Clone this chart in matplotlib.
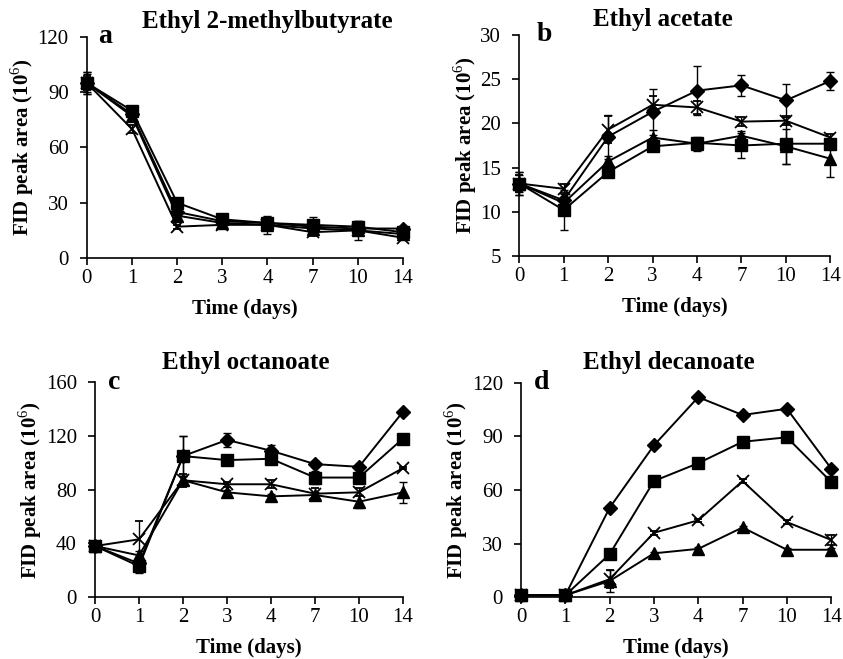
import numpy as np
import matplotlib
matplotlib.use('Agg')
import matplotlib.pyplot as plt

plt.rcParams['font.family'] = ['Liberation Serif', 'DejaVu Serif']
plt.rcParams['mathtext.fontset'] = 'custom'
plt.rcParams['mathtext.rm'] = 'Liberation Serif'
plt.rcParams['mathtext.bf'] = 'Liberation Serif:bold'

days = ['0', '1', '2', '3', '4', '7', '10', '14']

# panel a - Ethyl 2-methylbutyrate
a_diamond = [95, 78, 25, 20, 19, 17, 16, 16]
a_square = [95, 80, 30, 21, 19, 18, 17, 14]
a_triangle = [95, 77, 23, 19, 18, 16, 15, 13]
a_cross = [95, 70, 17, 18, 18, 14, 15, 11]
a_diamond_err = [6, 2, 2, 1, 2, 2, 2, 1]
a_square_err = [6, 2, 2, 2, 3, 4, 3, 2]
a_triangle_err = [5, 2, 2, 1, 5, 2, 5, 2]
a_cross_err = [4, 2, 1, 1, 1, 2, 1, 1]

# panel b - Ethyl acetate
b_diamond = [13.2, 11.3, 18.5, 21.3, 23.7, 24.3, 22.6, 24.8]
b_square = [13.2, 10.2, 14.5, 17.4, 17.8, 17.5, 17.7, 17.7]
b_triangle = [13.2, 11.0, 15.7, 18.4, 17.7, 18.6, 17.4, 16.0]
b_cross = [13.2, 12.6, 19.3, 22.1, 21.8, 20.2, 20.3, 18.4]
b_diamond_err = [1.3, 0.7, 2.5, 2.6, 2.8, 1.2, 1.9, 1.0]
b_square_err = [1.3, 2.3, 0.6, 0.5, 0.5, 1.4, 2.3, 0.5]
b_triangle_err = [1.0, 0.6, 0.6, 0.8, 0.8, 0.5, 2.0, 2.1]
b_cross_err = [1.0, 0.5, 1.5, 1.0, 0.7, 0.5, 0.5, 0.4]

# panel c - Ethyl octanoate
c_diamond = [38, 25, 105, 117, 109, 99, 97, 138]
c_square = [38, 23, 105, 102, 103, 89, 89, 118]
c_triangle = [38, 31, 87, 78, 75, 76, 71, 78]
c_cross = [38, 43, 87, 84, 84, 77, 78, 96]
c_diamond_err = [2, 3, 15, 5, 4, 2, 2, 1]
c_square_err = [2, 5, 15, 2, 3, 5, 3, 1]
c_triangle_err = [2, 3, 3, 2, 2, 2, 5, 8]
c_cross_err = [2, 14, 5, 2, 3, 4, 3, 1]

# panel d - Ethyl decanoate
d_diamond = [1, 1, 50, 85, 112, 102, 105.5, 72]
d_square = [1, 1, 24, 65, 75, 87, 89.5, 64.5]
d_triangle = [1, 1, 9, 24.5, 27, 39, 26.5, 26.5]
d_cross = [1, 1, 10, 36, 43, 65, 42, 32]
d_diamond_err = [0.5, 0.5, 1, 1, 1, 1, 1, 1]
d_square_err = [0.5, 0.5, 1, 1, 1, 1, 1, 1]
d_triangle_err = [0.5, 0.5, 6, 1, 1, 1, 1, 1]
d_cross_err = [0.5, 0.5, 5, 1, 1, 1, 1, 3]

# letter, title, axes rect, ylim, yticks, title x, title offset (px), letter x, series
panels = [
    ('a', 'Ethyl 2-methylbutyrate', [0.103, 0.6085, 0.375, 0.3355], (0, 120), [0, 30, 60, 90, 120], 0.57, 15, 0.035,
     [(a_diamond, a_diamond_err), (a_square, a_square_err), (a_triangle, a_triangle_err), (a_cross, a_cross_err)]),
    ('b', 'Ethyl acetate', [0.616, 0.6115, 0.369, 0.3355], (5, 30), [5, 10, 15, 20, 25, 30], 0.463, 15, 0.055,
     [(b_diamond, b_diamond_err), (b_square, b_square_err), (b_triangle, b_triangle_err), (b_cross, b_cross_err)]),
    ('c', 'Ethyl octanoate', [0.1127, 0.094, 0.3653, 0.326], (0, 160), [0, 40, 80, 120, 160], 0.49, 20, 0.042,
     [(c_diamond, c_diamond_err), (c_square, c_square_err), (c_triangle, c_triangle_err), (c_cross, c_cross_err)]),
    ('d', 'Ethyl decanoate', [0.618, 0.094, 0.368, 0.325], (0, 120), [0, 30, 60, 90, 120], 0.477, 20, 0.042,
     [(d_diamond, d_diamond_err), (d_square, d_square_err), (d_triangle, d_triangle_err), (d_cross, d_cross_err)]),
]

markers = [('D', 7, 1), ('s', 8.5, 1), ('^', 8.5, 1), ('x', 8, 1.3)]

fig = plt.figure(figsize=(8.43, 6.59), dpi=100)
x = np.arange(len(days))

for letter, title, rect, ylim, yticks, tx, toff, lx, series in panels:
    ax = fig.add_axes(rect)
    for (vals, err), (m, ms, mew) in zip(series, markers):
        ax.errorbar(x, vals, yerr=err, color='black', ecolor='black', elinewidth=1,
                    capsize=3, capthick=1, lw=1.4, marker=m, markersize=ms,
                    markeredgewidth=mew, markerfacecolor='black', markeredgecolor='black',
                    clip_on=False, zorder=3)
    ax.set_xlim(0, len(days) - 1)
    ax.set_ylim(*ylim)
    ax.set_xticks(x)
    ax.set_xticklabels(days)
    ax.set_yticks(yticks)
    ax.spines['top'].set_visible(False)
    ax.spines['right'].set_visible(False)
    ax.spines['left'].set_linewidth(1.2)
    ax.spines['bottom'].set_linewidth(1.2)
    ax.tick_params(direction='out', length=5, width=1.2, labelsize=15)
    ax.tick_params(axis='x', pad=3)
    ax.tick_params(axis='y', pad=8)
    ax.set_xlabel('Time (days)', fontsize=15, fontweight='bold', labelpad=8)
    ax.set_ylabel(r'FID peak area (10$^{6}$)', fontsize=15, fontweight='bold', labelpad=1)
    ax.annotate(title, xy=(tx, 1.0), xycoords='axes fraction', xytext=(0, toff),
                textcoords='offset pixels', ha='center', va='center',
                fontsize=18, fontweight='bold')
    ax.text(lx, 1.0, letter, transform=ax.transAxes, ha='left', va='center',
            fontsize=20, fontweight='bold')

fig.savefig('out.png', dpi=100)
